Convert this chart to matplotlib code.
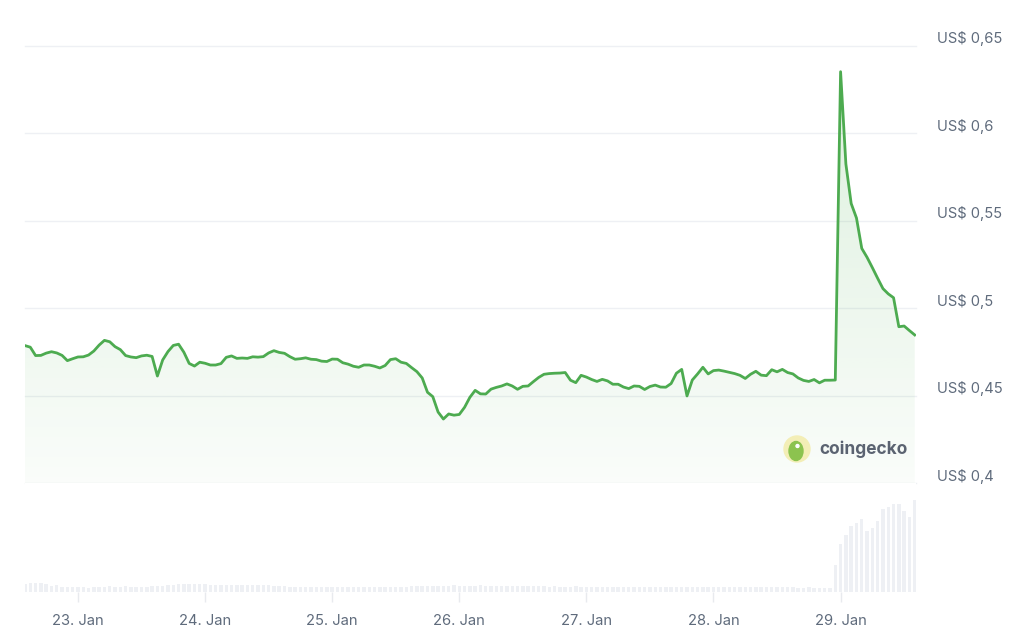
import matplotlib
matplotlib.use('Agg')
import matplotlib.pyplot as plt
import matplotlib.dates as mdates
from matplotlib.patches import Ellipse
import numpy as np
import pandas as pd

plt.rcParams['font.family'] = ['Inter', 'DejaVu Sans']

# hourly prices (US$), 22 Jan 14:00 -> 29 Jan 14:00
prices = [
    0.4786, 0.4777, 0.4729, 0.4730, 0.4743, 0.4751, 0.4744, 0.4730, 0.4700, 0.4711,
    0.4721, 0.4722, 0.4732, 0.4755, 0.4789, 0.4816, 0.4808, 0.4780, 0.4763, 0.4729,
    0.4721, 0.4717, 0.4727, 0.4731, 0.4724, 0.4612, 0.4704, 0.4752, 0.4787, 0.4794,
    0.4748, 0.4684, 0.4669, 0.4691, 0.4685, 0.4675, 0.4675, 0.4683, 0.4719, 0.4727,
    0.4713, 0.4715, 0.4713, 0.4722, 0.4720, 0.4723, 0.4744, 0.4757, 0.4747, 0.4742,
    0.4723, 0.4708, 0.4711, 0.4716, 0.4708, 0.4706, 0.4697, 0.4695, 0.4709, 0.4708,
    0.4688, 0.4680, 0.4668, 0.4662, 0.4675, 0.4675, 0.4668, 0.4658, 0.4672, 0.4706,
    0.4711, 0.4691, 0.4684, 0.4660, 0.4637, 0.4601, 0.4519, 0.4494, 0.4406, 0.4366,
    0.4395, 0.4388, 0.4392, 0.4433, 0.4490, 0.4530, 0.4510, 0.4509, 0.4537, 0.4547,
    0.4555, 0.4567, 0.4555, 0.4536, 0.4553, 0.4555, 0.4580, 0.4604, 0.4622, 0.4626,
    0.4628, 0.4629, 0.4632, 0.4588, 0.4574, 0.4616, 0.4606, 0.4592, 0.4581, 0.4593,
    0.4584, 0.4565, 0.4565, 0.4549, 0.4540, 0.4555, 0.4553, 0.4535, 0.4552, 0.4560,
    0.4549, 0.4548, 0.4569, 0.4628, 0.4650, 0.4498, 0.4589, 0.4624, 0.4662, 0.4624,
    0.4643, 0.4646, 0.4640, 0.4633, 0.4626, 0.4616, 0.4598, 0.4622, 0.4639, 0.4617,
    0.4614, 0.4648, 0.4636, 0.4650, 0.4632, 0.4624, 0.4601, 0.4587, 0.4581, 0.4592,
    0.4573, 0.4588, 0.4588, 0.4589, 0.6353, 0.5825, 0.5599, 0.5516, 0.5342, 0.5291,
    0.5232, 0.5171, 0.5112, 0.5082, 0.5060, 0.4894, 0.4898, 0.4872, 0.4847,
]

# hourly volume (arbitrary units)
volumes = [
    8, 9, 9, 9, 8, 6, 7, 5, 5, 5,
    5, 5, 4, 5, 5, 5, 6, 5, 5, 6,
    5, 5, 5, 5, 6, 6, 6, 7, 7, 8,
    8, 8, 8, 8, 8, 7, 7, 7, 7, 7,
    7, 7, 7, 7, 7, 7, 7, 6, 6, 6,
    5, 5, 5, 5, 5, 5, 5, 5, 5, 5,
    5, 5, 5, 5, 5, 5, 5, 5, 5, 5,
    5, 5, 5, 6, 6, 6, 6, 6, 6, 6,
    6, 7, 6, 6, 6, 6, 7, 6, 6, 6,
    6, 6, 6, 6, 6, 6, 6, 6, 6, 5,
    6, 5, 5, 5, 6, 5, 5, 5, 5, 5,
    5, 5, 5, 5, 5, 5, 5, 5, 5, 5,
    5, 5, 5, 5, 5, 5, 5, 5, 5, 5,
    5, 5, 5, 5, 5, 5, 5, 5, 5, 5,
    5, 5, 5, 5, 5, 5, 4, 4, 5, 4,
    4, 4, 4, 27, 48, 57, 66, 69, 73, 61,
    64, 71, 83, 85, 88, 88, 81, 75, 92,
]

price_ticks = [0.4, 0.45, 0.5, 0.55, 0.6, 0.65]
price_labels = ['US$ 0,4', 'US$ 0,45', 'US$ 0,5', 'US$ 0,55', 'US$ 0,6', 'US$ 0,65']
day_ticks = pd.date_range('2024-01-23', '2024-01-29', freq='D')

times = pd.date_range('2024-01-22 14:00', periods=len(prices), freq='h')
t = mdates.date2num(times.to_pydatetime())

green = '#4dab50'
label_col = '#5f6b7c'
grid_col = '#eef0f4'

fig = plt.figure(figsize=(10.24, 6.37), dpi=100)
ax = fig.add_axes([25 / 1024, 1 - 483 / 637, 891 / 1024, 437 / 637])
axv = fig.add_axes([25 / 1024, 1 - 592 / 637, 891 / 1024, 109 / 637], sharex=ax)

# price line + gradient fill
ax.set_xlim(t[0], t[-1] + 0.01)
ax.set_ylim(0.4, 0.65)
fill = ax.fill_between(t, prices, 0.4, color='none', lw=0)
grad = np.zeros((100, 1, 4))
grad[:, 0, 0] = 76 / 255
grad[:, 0, 1] = 175 / 255
grad[:, 0, 2] = 80 / 255
grad[:, 0, 3] = np.linspace(0.03, 0.2, 100)
img = ax.imshow(grad, extent=[t[0], t[-1], 0.4, 0.65], origin='lower',
                aspect='auto', interpolation='bilinear', zorder=1)
img.set_clip_path(fill.get_paths()[0], transform=ax.transData)
ax.plot(t, prices, color=green, lw=2.0, zorder=3, solid_joinstyle='round')

for v in price_ticks:
    ax.axhline(v, color=grid_col, lw=1, zorder=0, clip_on=False)
for v, lab in zip(price_ticks, price_labels):
    ax.annotate(lab, xy=(1, v), xycoords=('axes fraction', 'data'),
                xytext=(21, 7), textcoords='offset pixels', va='center',
                ha='left', fontsize=10.6, color=label_col, annotation_clip=False)
ax.set_xticks([])
ax.set_yticks([])
for s in ax.spines.values():
    s.set_visible(False)

# volume bars
axv.bar(t, volumes, width=0.65 / 24, color='#eef0f4', zorder=2)
axv.set_ylim(0, 109)
axv.set_yticks([])
axv.set_xticks(mdates.date2num(day_ticks.to_pydatetime()))
axv.xaxis.set_major_formatter(mdates.DateFormatter('%d. %b'))
axv.tick_params(axis='x', length=7, width=1, color='#e8eaee', pad=9,
                labelsize=10.6, labelcolor=label_col)
for s in axv.spines.values():
    s.set_visible(False)
plt.setp(ax.get_xticklabels(), visible=False)

# coingecko watermark
fig.add_artist(Ellipse((797 / 1024, 1 - 449 / 637), 26 / 1024, 26 / 637,
                       color='#f3eeb6', zorder=5))
fig.add_artist(Ellipse((796 / 1024, 1 - 451 / 637), 14 / 1024, 19 / 637,
                       color='#8cc34f', zorder=6))
fig.add_artist(Ellipse((797.5 / 1024, 1 - 446 / 637), 3 / 1024, 3 / 637,
                       color='#ffffff', zorder=7))
fig.text(819 / 1024, 1 - 449 / 637, 'coingecko', fontsize=12.5, fontweight='bold',
         color='#5b6371', va='center', ha='left')

fig.savefig('out.png', dpi=100)
